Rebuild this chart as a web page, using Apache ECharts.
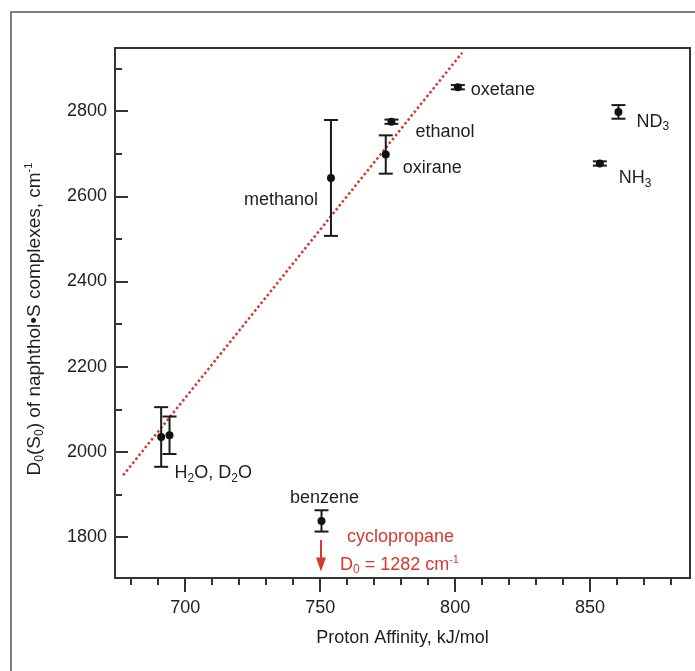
<!DOCTYPE html>
<html>
<head>
<meta charset="utf-8">
<script src="https://cdn.jsdelivr.net/npm/echarts@6/dist/echarts.min.js"></script>
<style>
    html, body { margin: 0; padding: 0; background: #fff; }
    #chart { width: 695px; height: 671px; }
</style>
</head>
<body>
<div id="chart"></div>
<script>
// solvent molecules S, proton affinity (kJ/mol) and D0(S0) with error (cm-1)
const species = ['H2O', 'D2O', 'methanol', 'oxirane', 'ethanol', 'oxetane', 'NH3', 'ND3', 'benzene']
const protonAffinity = [691.1, 694.2, 754.0, 774.3, 776.4, 801.0, 853.6, 860.5, 750.5]
const d0Value = [2035, 2039, 2643, 2698, 2775, 2856, 2677, 2798, 1838]
const d0Error = [70, 44, 136, 45, 5, 5, 5, 16, 25]

// red dotted trend line (two end points)
const fitLine = [[677.0, 1945], [802.6, 2937]]
// cyclopropane is off scale: arrow at its PA, from / to in cm-1
const cycloArrow = [750.3, 1793, 1719]

// axis ticks
const xRange = [674, 887]
const yRange = [1704, 2948]
const xMajorTicks = [700, 750, 800, 850]
const xMinorTicks = [680, 690, 710, 720, 730, 740, 760, 770, 780, 790, 810, 820, 830, 840, 860, 870, 880]
const yMajorTicks = [1800, 2000, 2200, 2400, 2600, 2800]
const yMinorTicks = [1900, 2100, 2300, 2500, 2700, 2900]

const FONT = '"Liberation Sans", Arial, Helvetica, sans-serif'
const INK = '#1e1e1e'
const RED = '#d6382d'

// label texts (rich) and where they sit around each point
const labelText = {
    D2O: '{t|H}{s|2}{t|O, D}{s|2}{t|O}',
    methanol: '{t|methanol}',
    oxirane: '{t|oxirane}',
    ethanol: '{t|ethanol}',
    oxetane: '{t|oxetane}',
    NH3: '{t|NH}{s|3}',
    ND3: '{t|ND}{s|3}',
    benzene: '{t|benzene}'
}
const labelPlace = {
    D2O: { position: 'right', offset: [1, 38] },
    methanol: { position: 'left', offset: [-9, 22] },
    oxirane: { position: 'right', offset: [13, 14] },
    ethanol: { position: 'right', offset: [20, 10] },
    oxetane: { position: 'right', offset: [9, 3] },
    NH3: { position: 'right', offset: [15, 15] },
    ND3: { position: 'right', offset: [14, 10] },
    benzene: { position: 'inside', offset: [3, -23] }
}

const richText = {
    t: { fontSize: 18, fontFamily: FONT, color: INK, lineHeight: 22 },
    s: { fontSize: 12, fontFamily: FONT, color: INK, lineHeight: 8, verticalAlign: 'bottom' },
    sup: { fontSize: 11, fontFamily: FONT, color: INK, lineHeight: 8, verticalAlign: 'top' }
}
const richName = {
    t: { fontSize: 19, fontFamily: FONT, color: INK, lineHeight: 23 },
    s: { fontSize: 12, fontFamily: FONT, color: INK, lineHeight: 8, verticalAlign: 'bottom' },
    sup: { fontSize: 11, fontFamily: FONT, color: INK, lineHeight: 8, verticalAlign: 'top' }
}

function initChart() {
    const myChart = echarts.init(document.getElementById('chart'))

    const pointData = protonAffinity.map((x, i) => {
        const name = species[i]
        const item = { name: name, value: [x, d0Value[i]] }
        if (labelText[name]) {
            item.label = {
                show: true,
                position: labelPlace[name].position,
                distance: 0,
                offset: labelPlace[name].offset,
                formatter: labelText[name],
                color: INK,
                opacity: 1,
                rich: richText
            }
        }
        return item
    })

    const errData = protonAffinity.map((x, i) => [x, d0Value[i] - d0Error[i], d0Value[i] + d0Error[i]])

    const axisLine = { show: true, lineStyle: { color: '#333', width: 2 } }
    const plainNum = v => String(v)

    const option = {
        animation: false,
        backgroundColor: '#fff',
        grid: { left: 115, right: 5, top: 48, bottom: 93, show: true, borderColor: '#333', borderWidth: 2 },
        graphic: [{
            type: 'polyline',
            shape: { points: [[11, 671], [11, 12], [695, 12]] },
            style: { stroke: '#555', lineWidth: 1.5, fill: null }
        }],
        xAxis: [
            {
                type: 'value', position: 'bottom', min: xRange[0], max: xRange[1],
                axisLine: axisLine,
                axisTick: { show: true, inside: false, length: 14, customValues: xMajorTicks, lineStyle: { color: '#333', width: 2 } },
                axisLabel: { customValues: xMajorTicks, formatter: plainNum, margin: 21, fontSize: 18, fontFamily: FONT, color: INK },
                splitLine: { show: false },
                name: 'Proton Affinity, kJ/mol',
                nameLocation: 'middle',
                nameGap: 51,
                nameTextStyle: { fontSize: 18, fontFamily: FONT, color: INK }
            },
            {
                type: 'value', position: 'bottom', min: xRange[0], max: xRange[1],
                axisLine: { show: false },
                axisTick: { show: true, inside: false, length: 7, customValues: xMinorTicks, lineStyle: { color: '#333', width: 2 } },
                axisLabel: { show: false, customValues: xMinorTicks },
                splitLine: { show: false }
            }
        ],
        yAxis: [
            {
                type: 'value', position: 'left', min: yRange[0], max: yRange[1],
                axisLine: axisLine,
                axisTick: { show: true, inside: true, length: 13, customValues: yMajorTicks, lineStyle: { color: '#333', width: 2 } },
                axisLabel: { customValues: yMajorTicks, formatter: plainNum, margin: 8, fontSize: 18, fontFamily: FONT, color: INK },
                splitLine: { show: false },
                name: '{t|D}{s|0}{t|(S}{s|0}{t|) of naphthol•S complexes, cm}{sup|-1}',
                nameLocation: 'middle',
                nameGap: 69,
                nameTextStyle: { fontSize: 19, fontFamily: FONT, color: INK, rich: richName, padding: [0, 12, 0, 0] }
            },
            {
                type: 'value', position: 'left', min: yRange[0], max: yRange[1],
                axisLine: { show: false },
                axisTick: { show: true, inside: true, length: 7, customValues: yMinorTicks, lineStyle: { color: '#333', width: 2 } },
                axisLabel: { show: false, customValues: yMinorTicks },
                splitLine: { show: false }
            }
        ],
        series: [
            {
                name: 'trend',
                type: 'line',
                data: fitLine,
                symbol: 'none',
                lineStyle: { color: RED, width: 2.5, type: [2.5, 2.5] },
                z: 1
            },
            {
                name: 'error',
                type: 'custom',
                data: errData,
                encode: { x: 0, y: [1, 2] },
                renderItem: function (params, api) {
                    const x = api.value(0)
                    const top = api.coord([x, api.value(2)])
                    const bot = api.coord([x, api.value(1)])
                    const w = 7
                    const style = { stroke: '#1a1a1a', lineWidth: 2 }
                    return {
                        type: 'group',
                        children: [
                            { type: 'line', shape: { x1: top[0], y1: top[1], x2: bot[0], y2: bot[1] }, style: style },
                            { type: 'line', shape: { x1: top[0] - w, y1: top[1], x2: top[0] + w, y2: top[1] }, style: style },
                            { type: 'line', shape: { x1: bot[0] - w, y1: bot[1], x2: bot[0] + w, y2: bot[1] }, style: style }
                        ]
                    }
                },
                z: 2
            },
            {
                name: 'D0',
                type: 'scatter',
                data: pointData,
                symbol: 'circle',
                symbolSize: 8,
                itemStyle: { color: '#111', opacity: 1 },
                z: 3
            },
            {
                name: 'cyclopropane',
                type: 'custom',
                data: [cycloArrow],
                encode: { x: 0, y: [1, 2] },
                renderItem: function (params, api) {
                    const x = api.value(0)
                    const p0 = api.coord([x, api.value(1)])
                    const p1 = api.coord([x, api.value(2)])
                    return {
                        type: 'group',
                        children: [
                            { type: 'line', shape: { x1: p0[0], y1: p0[1], x2: p1[0], y2: p1[1] - 12 }, style: { stroke: RED, lineWidth: 2 } },
                            { type: 'polygon', shape: { points: [[p1[0] - 5, p1[1] - 14], [p1[0] + 5, p1[1] - 14], [p1[0], p1[1]]] }, style: { fill: RED } },
                            {
                                type: 'text', x: p0[0] + 26, y: p0[1] - 3,
                                style: { text: 'cyclopropane', fill: RED, fontSize: 18, fontFamily: FONT, align: 'left', verticalAlign: 'middle' }
                            },
                            {
                                type: 'text', x: p0[0] + 19, y: p0[1] + 25,
                                style: {
                                    text: '{t|D}{s|0}{t| = 1282 cm}{sup|-1}',
                                    align: 'left', verticalAlign: 'middle',
                                    rich: {
                                        t: { fill: RED, fontSize: 18, fontFamily: FONT, lineHeight: 22 },
                                        s: { fill: RED, fontSize: 12, fontFamily: FONT, lineHeight: 8, verticalAlign: 'bottom' },
                                        sup: { fill: RED, fontSize: 11, fontFamily: FONT, lineHeight: 8, verticalAlign: 'top' }
                                    }
                                }
                            }
                        ]
                    }
                },
                z: 2
            }
        ]
    }

    option && myChart.setOption(option, true)
}

initChart()
</script>
</body>
</html>
